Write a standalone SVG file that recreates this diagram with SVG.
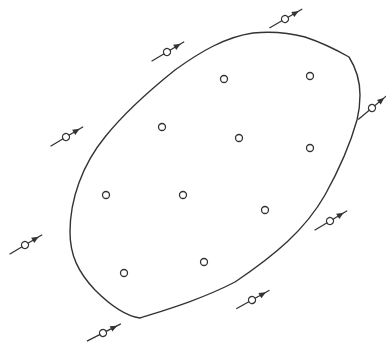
<svg xmlns="http://www.w3.org/2000/svg" xmlns:xlink="http://www.w3.org/1999/xlink" width="386" height="347" viewBox="0 0 386 347">
<style>
.o{fill:none;stroke:#333;stroke-width:1.4}
.p{fill:#fff;stroke:#333;stroke-width:1.3}
.l{stroke:#333;stroke-width:1.3}
.a{fill:#333}
</style>
<defs>
<g id="part">
<line class="l" x1="-18" y1="0" x2="20" y2="0"/>
<polygon class="a" points="16,0 9,-3 9,3"/>
<circle class="p" cx="0" cy="0" r="3.5"/>
</g>
</defs>
<rect width="386" height="347" fill="#fff"/>
<g id="boundary">
<path class="o" d="M 253 33 C 275 31, 290 33, 305 37 C 320 42, 335 49, 349 57 C 356 68, 360 80, 360 95 C 360 105, 359 112, 357 120 C 350 145, 340 168, 325 195 C 305 230, 275 255, 235 282 C 200 300, 165 310, 140 318 C 125 316, 110 305, 95 290 C 78 272, 70 255, 70 232 C 70 200, 82 165, 105 137 C 125 112, 150 90, 175 70 C 200 52, 225 37, 253 33 Z"/>
</g>
<g id="inside">
<circle class="p" cx="224" cy="79" r="3.5"/>
<circle class="p" cx="310" cy="76" r="3.5"/>
<circle class="p" cx="162" cy="127" r="3.5"/>
<circle class="p" cx="239" cy="138" r="3.5"/>
<circle class="p" cx="310" cy="148" r="3.5"/>
<circle class="p" cx="106" cy="195" r="3.5"/>
<circle class="p" cx="183" cy="195" r="3.5"/>
<circle class="p" cx="265" cy="210" r="3.5"/>
<circle class="p" cx="124" cy="273" r="3.5"/>
<circle class="p" cx="204" cy="262" r="3.5"/>
</g>
<g id="outside">
<use xlink:href="#part" transform="translate(167,52) rotate(-31)"/>
<use xlink:href="#part" transform="translate(285,19) rotate(-30)"/>
<use xlink:href="#part" transform="translate(372,108) rotate(-40)"/>
<use xlink:href="#part" transform="translate(66,137) rotate(-31)"/>
<use xlink:href="#part" transform="translate(330,221) rotate(-31)"/>
<use xlink:href="#part" transform="translate(25,245) rotate(-31)"/>
<use xlink:href="#part" transform="translate(252,300) rotate(-29)"/>
<use xlink:href="#part" transform="translate(103,333) rotate(-27)"/>
</g>
</svg>
